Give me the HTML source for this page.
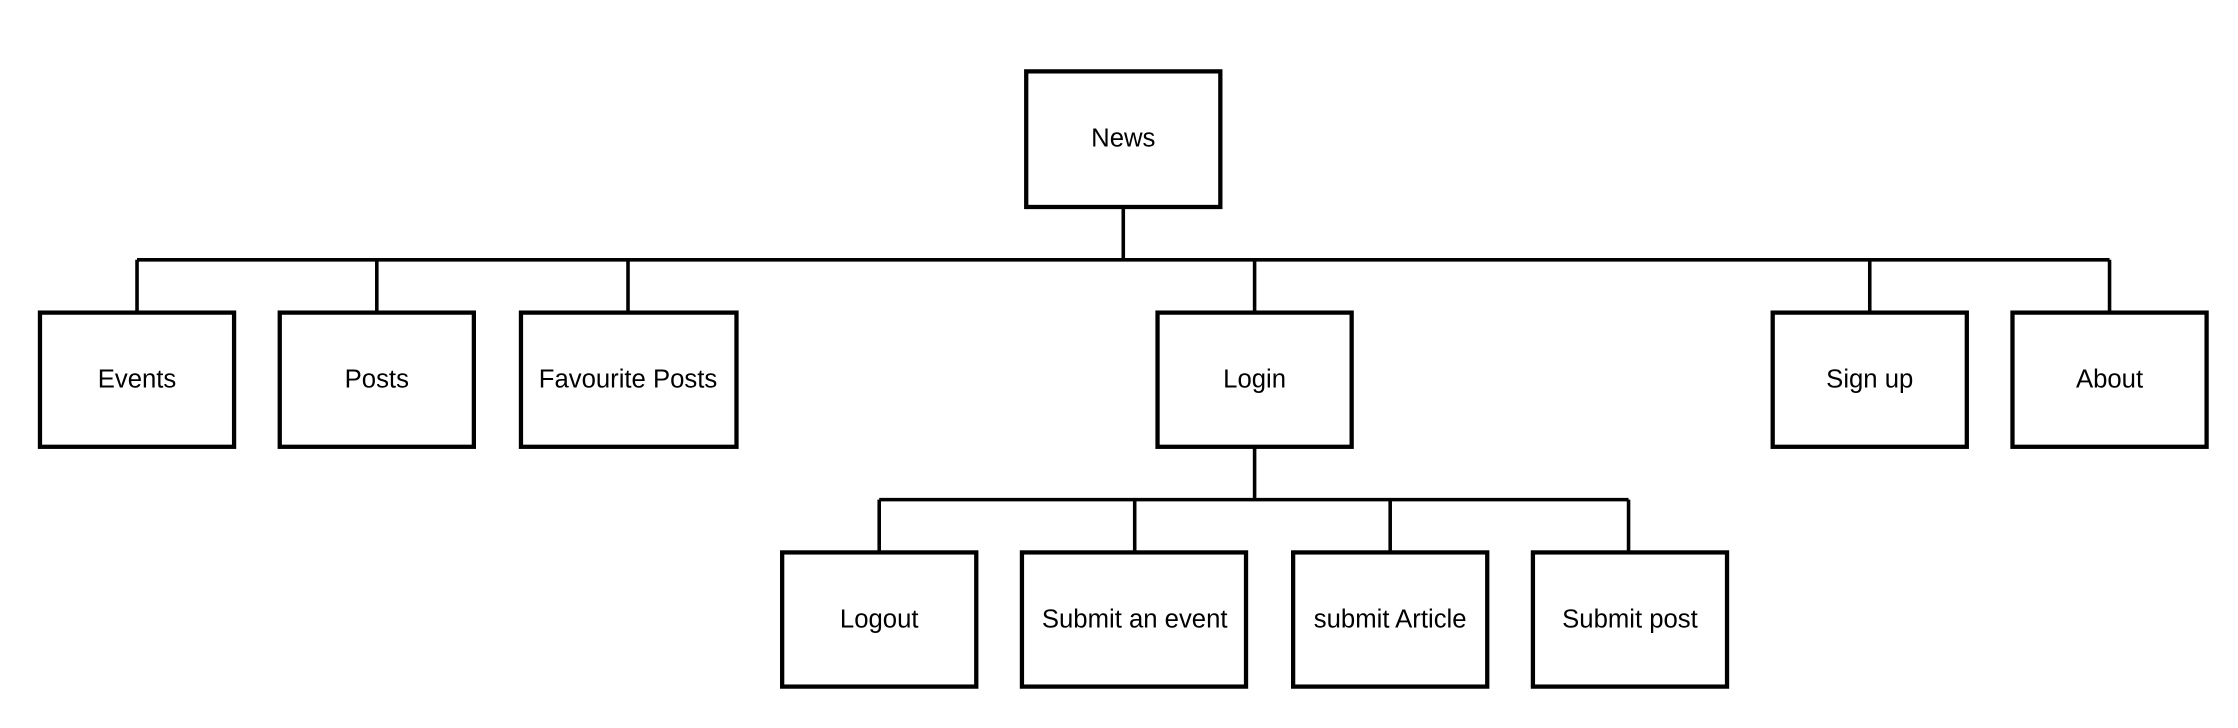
<!DOCTYPE html>
<html><head><meta charset="utf-8"><style>
html,body{margin:0;padding:0;background:#fff;}
svg{display:block;}
text{font-family:"Liberation Sans",sans-serif;font-size:18px;fill:#000;text-anchor:middle;dominant-baseline:central;}
</style></head><body>
<svg width="2238" height="728" viewBox="0 0 1568 510" preserveAspectRatio="none" xmlns="http://www.w3.org/2000/svg">
<g stroke="#000" stroke-width="2.5" fill="none">
<path d="M787 145V182M96 182H1478M96 182V219M264 182V219M440 182V219M879 182V219M1310 182V219M1478 182V219"/>
<path d="M879 313V350M616 350H1141M616 350V387M795 350V387M974 350V387M1141 350V387"/>
</g>
<g stroke="#000" stroke-width="3" fill="#fff">
<rect x="719" y="50" width="136" height="95"/>
<rect x="28" y="219" width="136" height="94"/>
<rect x="196" y="219" width="136" height="94"/>
<rect x="365" y="219" width="151" height="94"/>
<rect x="811" y="219" width="136" height="94"/>
<rect x="1242" y="219" width="136" height="94"/>
<rect x="1410" y="219" width="136" height="94"/>
<rect x="548" y="387" width="136" height="94"/>
<rect x="716" y="387" width="157" height="94"/>
<rect x="906" y="387" width="136" height="94"/>
<rect x="1074" y="387" width="136" height="94"/>
</g>
<text x="787" y="97">News</text>
<text x="96" y="266">Events</text>
<text x="264" y="266">Posts</text>
<text x="440" y="266">Favourite Posts</text>
<text x="879" y="266">Login</text>
<text x="1310" y="266">Sign up</text>
<text x="1478" y="266">About</text>
<text x="616" y="434">Logout</text>
<text x="795" y="434">Submit an event</text>
<text x="974" y="434">submit Article</text>
<text x="1142" y="434">Submit post</text>
</svg>
</body></html>
